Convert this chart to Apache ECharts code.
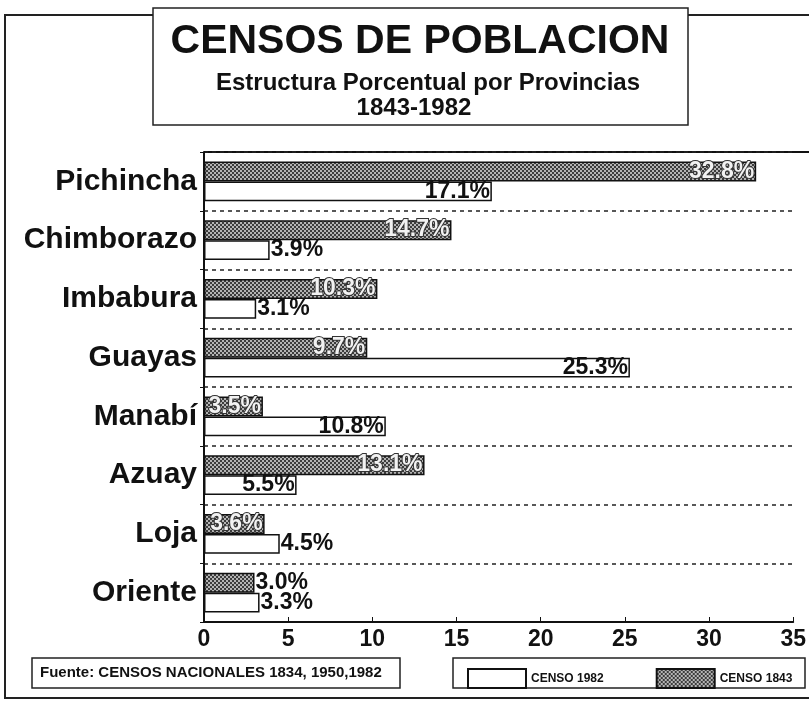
<!DOCTYPE html>
<html>
<head>
<meta charset="utf-8">
<title>Censos de Poblacion</title>
<script src="https://cdn.jsdelivr.net/npm/echarts@6/dist/echarts.min.js"></script>
<style>
  body { margin: 0; background: #fff; }
  #chart { width: 809px; height: 704px; }
</style>
</head>
<body>
<div id="chart"></div>
<script>
var provincias = ['Pichincha', 'Chimborazo', 'Imbabura', 'Guayas', 'Manabí', 'Azuay', 'Loja', 'Oriente'];
var censo1843 = [32.8, 14.7, 10.3, 9.7, 3.5, 13.1, 3.6, 3.0];
var censo1982 = [17.1, 3.9, 3.1, 25.3, 10.8, 5.5, 4.5, 3.3];
var xTicks = [0, 5, 10, 15, 20, 25, 30, 35];

// crosshatch fill for the 1843 bars
var pat = document.createElement('canvas');
pat.width = 4; pat.height = 4;
var pc = pat.getContext('2d');
pc.fillStyle = '#b4b4b4';
pc.fillRect(0, 0, 4, 4);
pc.fillStyle = '#3c3c3c';
pc.fillRect(0, 0, 2, 2);
pc.fillRect(2, 2, 2, 2);
var grayFill = { image: pat, repeat: 'repeat' };

var font = '"Liberation Sans", Arial, sans-serif';
var chart = echarts.init(document.getElementById('chart'));

function labelFor(limit, inner) {
  return function (v) {
    var out = v < limit;
    return {
      value: v,
      label: {
        position: out ? 'right' : 'insideRight',
        distance: out ? 1 : 2,
        color: out ? '#111' : inner.color,
        textBorderColor: out ? 'transparent' : inner.border,
        textBorderWidth: out ? 0 : inner.borderWidth
      }
    };
  };
}

function pct(p) { return p.value.toFixed(1) + '%'; }

chart.setOption({
  animation: false,
  backgroundColor: '#fff',
  textStyle: { fontFamily: font },
  grid: { left: 204, top: 152, right: 9, bottom: 82 },
  legend: {
    data: ['CENSO 1982', 'CENSO 1843'],
    left: 462, top: 663, icon: 'rect',
    itemWidth: 58, itemHeight: 19, itemGap: 52,
    textStyle: { fontSize: 12, fontWeight: 'bold', color: '#111', fontFamily: font }
  },
  xAxis: {
    type: 'value', min: 0, max: 35, interval: 5,
    axisLine: { show: true, lineStyle: { color: '#111', width: 2 } },
    axisTick: { show: true, inside: true, length: 5, lineStyle: { color: '#111' } },
    splitLine: { show: false },
    axisLabel: {
      fontSize: 23, fontWeight: 'bold', color: '#111', margin: 6,
      showMaxLabel: true,
      formatter: function (v) { return xTicks.indexOf(v) >= 0 ? String(v) : ''; }
    }
  },
  yAxis: {
    type: 'category', data: provincias, inverse: true,
    axisLine: { show: true, lineStyle: { color: '#111', width: 2 } },
    axisTick: { show: true, length: 4, lineStyle: { color: '#111' } },
    splitLine: { show: true, lineStyle: { color: '#222', type: [4, 4], width: 1.5 } },
    axisLabel: { fontSize: 30, fontWeight: 'bold', color: '#111', margin: 7 }
  },
  series: [
    {
      name: 'CENSO 1843', type: 'bar',
      data: censo1843.map(labelFor(3.2, { color: '#f2f2f2', border: '#333', borderWidth: 2 })),
      barGap: '0%', barCategoryGap: '32%',
      itemStyle: { color: grayFill, borderColor: '#111', borderWidth: 1.5 },
      label: { show: true, fontSize: 23, fontWeight: 'bold', formatter: pct }
    },
    {
      name: 'CENSO 1982', type: 'bar',
      data: censo1982.map(labelFor(5, { color: '#111', border: 'transparent', borderWidth: 0 })),
      barGap: '0%', barCategoryGap: '32%',
      itemStyle: { color: '#fff', borderColor: '#111', borderWidth: 1.5 },
      label: { show: true, fontSize: 23, fontWeight: 'bold', formatter: pct }
    }
  ],
  graphic: [
    { type: 'rect', z: -10, shape: { x: 5, y: 15, width: 820, height: 683 },
      style: { fill: 'none', stroke: '#222', lineWidth: 2 } },
    { type: 'line', shape: { x1: 204, y1: 152, x2: 809, y2: 152 },
      style: { stroke: '#111', lineWidth: 2 } },
    { type: 'rect', shape: { x: 153, y: 8, width: 535, height: 117 },
      style: { fill: '#fff', stroke: '#222', lineWidth: 1.5 } },
    { type: 'text', x: 420, y: 42,
      style: { text: 'CENSOS DE POBLACION', fontSize: 41, fontWeight: 'bold', fontFamily: font,
               fill: '#111', align: 'center', verticalAlign: 'middle' } },
    { type: 'text', x: 428, y: 83,
      style: { text: 'Estructura Porcentual por Provincias', fontSize: 24, fontWeight: 'bold',
               fontFamily: font, fill: '#111', align: 'center', verticalAlign: 'middle' } },
    { type: 'text', x: 414, y: 108,
      style: { text: '1843-1982', fontSize: 24, fontWeight: 'bold', fontFamily: font,
               fill: '#111', align: 'center', verticalAlign: 'middle' } },
    { type: 'rect', shape: { x: 32, y: 658, width: 368, height: 30 },
      style: { fill: '#fff', stroke: '#222', lineWidth: 1.5 } },
    { type: 'text', x: 40, y: 673,
      style: { text: 'Fuente: CENSOS NACIONALES 1834, 1950,1982', fontSize: 15, fontWeight: 'bold',
               fontFamily: font, fill: '#111', verticalAlign: 'middle' } },
    { type: 'rect', z: -1, shape: { x: 453, y: 658, width: 352, height: 30 },
      style: { fill: '#fff', stroke: '#222', lineWidth: 1.5 } }
  ]
});
</script>
</body>
</html>
